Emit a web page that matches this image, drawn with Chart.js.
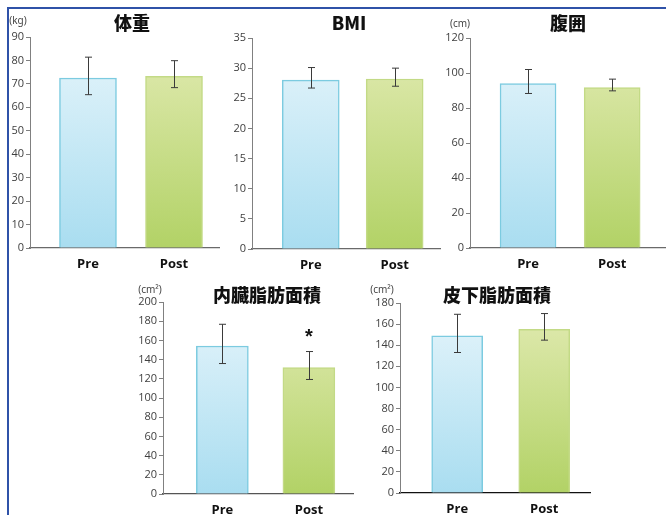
<!DOCTYPE html>
<html><head><meta charset="utf-8">
<script src="https://cdn.jsdelivr.net/npm/chart.js@4.4.1/dist/chart.umd.min.js"></script>
<style>
html,body{margin:0;padding:0;background:#fff;width:666px;height:515px;overflow:hidden;position:relative;}
canvas{position:absolute;}
#frame{position:absolute;left:7px;top:7px;width:670px;height:520px;border-top:2px solid #2f52a8;border-left:2px solid #2f52a8;}
</style></head>
<body>
<div id="frame"></div>
<canvas id="c1"></canvas><canvas id="c2"></canvas><canvas id="c3"></canvas><canvas id="c4"></canvas><canvas id="c5"></canvas>
<script>
// ---- data ----
const categories = ['Pre', 'Post'];

const weightMean = [72.5, 73.2];
const weightHigh = [81.4, 79.9];
const weightLow  = [65.4, 68.4];

const bmiMean = [28.0, 28.2];
const bmiHigh = [30.1, 30.0];
const bmiLow  = [26.7, 27.0];

const waistMean = [94.0, 91.7];
const waistHigh = [102.0, 96.5];
const waistLow  = [88.3, 89.8];

const visceralMean = [154.2, 131.8];
const visceralHigh = [176.8, 148.4];
const visceralLow  = [135.9, 119.3];

const subcutMean = [148.8, 155.1];
const subcutHigh = [169.3, 170.0];
const subcutLow  = [133.1, 144.8];

const visceralMarks = ['', '*'];

const titles = ['体重', 'BMI', '腹囲', '内臓脂肪面積', '皮下脂肪面積'];
const units = ['(kg)', '', '(cm)', '(cm²)', '(cm²)'];

// ---- helpers ----
const YW = 45, PT = 45, XH = 30, PR = 2;

function grad(ctx, area, top, bottom) {
  const g = ctx.createLinearGradient(0, area.top, 0, area.bottom);
  g.addColorStop(0, top);
  g.addColorStop(1, bottom);
  return g;
}

const errorBars = {
  id: 'errorBars',
  afterDatasetsDraw(chart, args, opts) {
    const {ctx} = chart;
    const y = chart.scales.y;
    const meta = chart.getDatasetMeta(0);
    ctx.save();
    ctx.strokeStyle = '#3a3a3a';
    ctx.lineWidth = 1;
    meta.data.forEach((bar, i) => {
      const x = Math.round(bar.x) + 0.5;
      const yh = y.getPixelForValue(opts.high[i]);
      const yl = y.getPixelForValue(opts.low[i]);
      ctx.beginPath();
      ctx.moveTo(x, yh); ctx.lineTo(x, yl);
      ctx.moveTo(x - 3.5, yh); ctx.lineTo(x + 3.5, yh);
      ctx.moveTo(x - 3.5, yl); ctx.lineTo(x + 3.5, yl);
      ctx.stroke();
      if (opts.marks && opts.marks[i]) {
        ctx.fillStyle = '#111';
        ctx.font = 'bold 20px "Liberation Sans", sans-serif';
        ctx.textAlign = 'center';
        ctx.textBaseline = 'middle';
        ctx.fillText(opts.marks[i], bar.x, yh - 14);
      }
    });
    ctx.restore();
  }
};

const panelText = {
  id: 'panelText',
  afterDraw(chart, args, opts) {
    const {ctx, chartArea} = chart;
    ctx.save();
    ctx.fillStyle = '#111';
    ctx.textAlign = 'center';
    ctx.textBaseline = 'middle';
    ctx.font = '900 18px "Noto Sans CJK JP", "Noto Sans", sans-serif';
    ctx.fillText(opts.title, chartArea.left + opts.titleDx, chartArea.top + opts.titleDy);
    if (opts.unit) {
      ctx.fillStyle = '#444';
      ctx.font = '10px "Noto Sans", sans-serif';
      ctx.fillText(opts.unit, chartArea.left + opts.unitDx, chartArea.top + opts.unitDy);
    }
    ctx.restore();
  }
};

function makePanel(id, area, mean, high, low, ymax, step, xmin, xmax, thick, ti, tdx, tdy, udx, udy, marks, xAxisColor) {
  const cv = document.getElementById(id);
  const w = YW + (area.right - area.left) + PR;
  const h = PT + (area.bottom - area.top) + XH;
  cv.style.left = (area.left - YW) + 'px';
  cv.style.top = (area.top - PT) + 'px';
  cv.width = w; cv.height = h;
  cv.style.width = w + 'px'; cv.style.height = h + 'px';
  const pts = categories.map((c, i) => ({x: i + 1, y: mean[i]}));
  new Chart(cv, {
    type: 'bar',
    data: {
      datasets: [{
        data: pts,
        barThickness: thick,
        backgroundColor: (c) => {
          const a = c.chart.chartArea;
          if (!a) return '#ccc';
          return c.dataIndex === 0 ? grad(c.chart.ctx, a, '#e6f5fb', '#a9ddf0') : grad(c.chart.ctx, a, '#e2ebb3', '#b2d266');
        },
        borderColor: (c) => c.dataIndex === 0 ? '#7ccbe0' : '#c3da86',
        borderWidth: 1.5,
        borderSkipped: 'bottom'
      }]
    },
    options: {
      responsive: false,
      animation: false,
      devicePixelRatio: 1,
      layout: {padding: {left: 0, top: PT, right: PR, bottom: 0}},
      plugins: {
        legend: {display: false},
        tooltip: {enabled: false},
        errorBars: {high: high, low: low, marks: marks},
        panelText: {title: titles[ti], titleDx: tdx, titleDy: tdy, unit: units[ti], unitDx: udx, unitDy: udy}
      },
      scales: {
        x: {
          type: 'linear',
          min: xmin, max: xmax,
          offset: false,
          grid: {display: false, drawTicks: false},
          border: {display: true, color: xAxisColor, width: 1.2},
          afterBuildTicks: (s) => { s.ticks = categories.map((c, i) => ({value: i + 1})); },
          afterFit: (s) => { s.height = XH; },
          ticks: {
            autoSkip: false, maxRotation: 0, padding: 8,
            color: '#111',
            font: {family: '"Open Sans", "Noto Sans", sans-serif', size: 13, weight: 'bold'},
            callback: (v) => categories[Math.round(v) - 1]
          }
        },
        y: {
          min: 0, max: ymax,
          grid: {display: true, drawOnChartArea: false, drawTicks: true, tickLength: 4, color: '#808080'},
          border: {display: true, color: '#808080', width: 1},
          afterFit: (s) => { s.width = YW; },
          ticks: {
            stepSize: step, padding: 2,
            color: '#404040',
            font: {family: '"Open Sans", "Noto Sans", sans-serif', size: 11}
          }
        }
      }
    },
    plugins: [errorBars, panelText]
  });
}

makePanel('c1', {left: 30, top: 37, right: 219, bottom: 248}, weightMean, weightHigh, weightLow, 90, 10,
  0.326, 2.523, 57, 0, 102, -14, -12, -16, null, '#6a6a6a');
makePanel('c2', {left: 252, top: 38, right: 440, bottom: 249}, bmiMean, bmiHigh, bmiLow, 35, 5,
  0.30, 2.54, 57, 1, 97, -15, 0, 0, null, '#6a6a6a');
makePanel('c3', {left: 470, top: 38, right: 666, bottom: 248}, waistMean, waistHigh, waistLow, 120, 20,
  0.31, 2.64, 56, 2, 98, -15, -10, -14, null, '#6a6a6a');
makePanel('c4', {left: 163, top: 302, right: 353, bottom: 494}, visceralMean, visceralHigh, visceralLow, 200, 20,
  0.314, 2.51, 52, 3, 104, -7, -13, -12, visceralMarks, '#555');
makePanel('c5', {left: 400, top: 303, right: 590, bottom: 493}, subcutMean, subcutHigh, subcutLow, 180, 20,
  0.343, 2.526, 51, 4, 97, -8, -18, -13, null, '#111');
</script>
</body></html>
